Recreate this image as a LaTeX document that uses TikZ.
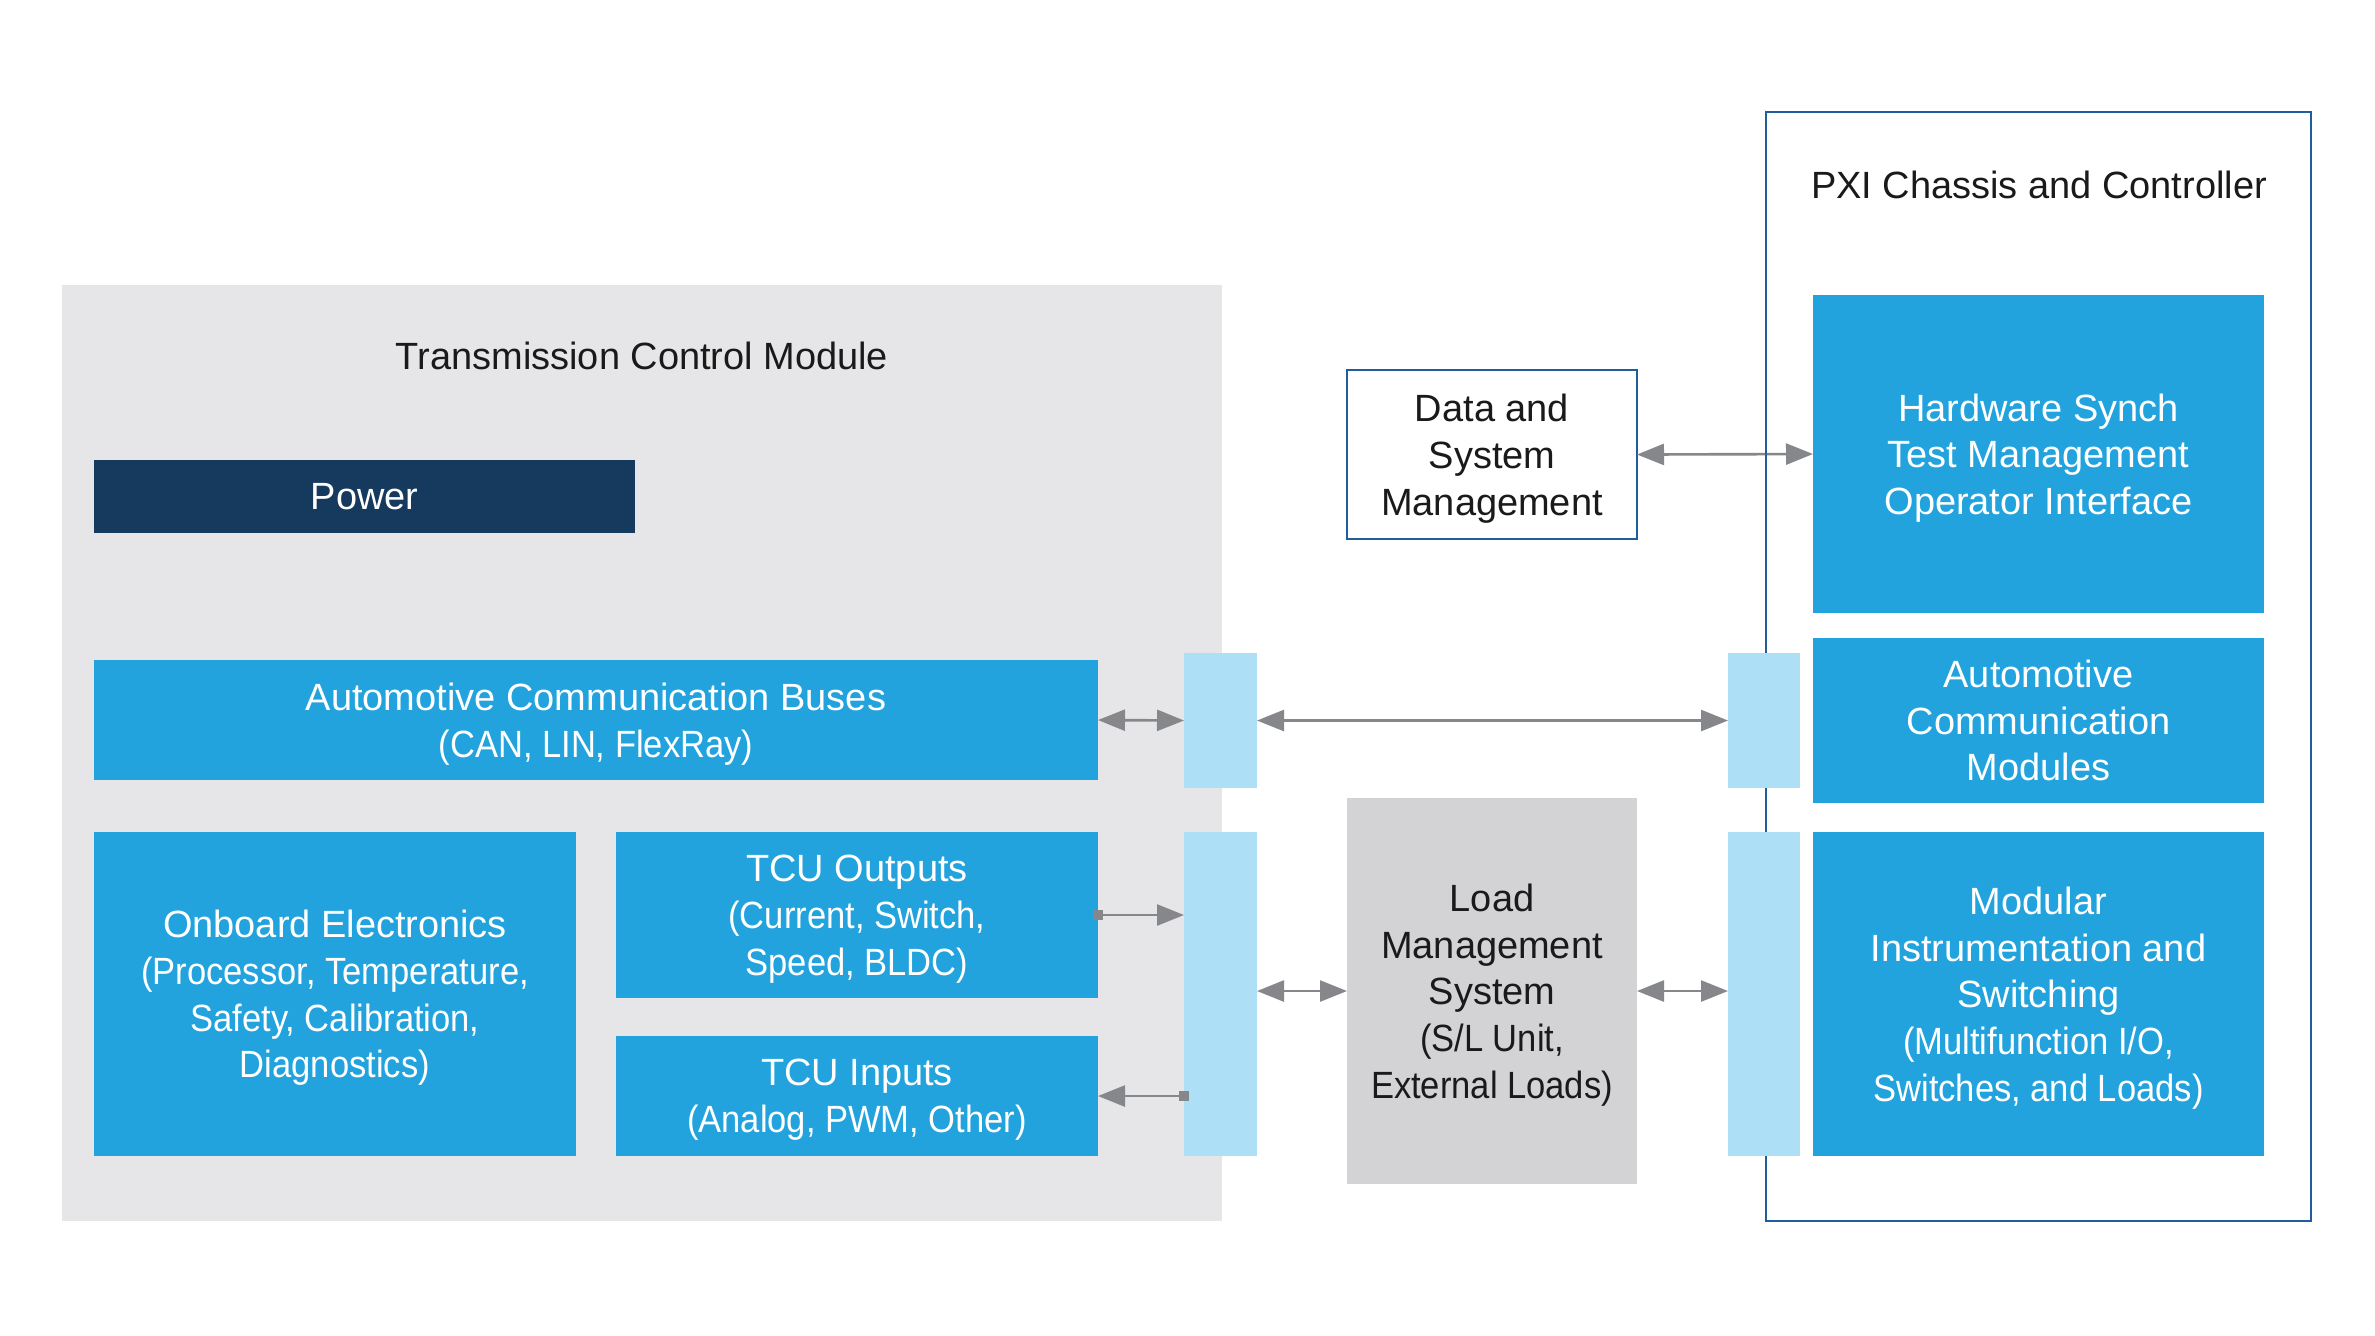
\documentclass[tikz,border=0pt]{standalone}
\usepackage{fontspec}
\usepackage{graphicx}
\setmainfont{Liberation Sans}
\usetikzlibrary{arrows.meta}
\definecolor{tcmgray}{HTML}{E6E6E8}
\definecolor{navy}{HTML}{163A5E}
\definecolor{nblue}{HTML}{22A3DD}
\definecolor{lblue}{HTML}{ADE0F6}
\definecolor{lmsgray}{HTML}{D3D3D5}
\definecolor{bblue}{HTML}{1F5D9E}
\definecolor{agray}{HTML}{86878A}
\definecolor{txt}{HTML}{1A1A1A}
\newcommand{\subl}[1]{\scalebox{0.91}[1]{#1}}
\newcommand{\nodp}[1]{\raisebox{0pt}[\height][0pt]{#1}}
\begin{document}
\begin{tikzpicture}[x=1cm,y=-1cm,
  font=\fontsize{10.8}{13.3}\selectfont,
  >={Triangle[length=0.27cm,width=0.21cm]},
  base/.style={rectangle, inner sep=0pt, outer sep=0pt, align=center},
  bluebox/.style={base, fill=nblue, text=white},
  connbox/.style={base, fill=lblue},
  title/.style={base, text=txt},
  conn/.style={draw=agray, line width=0.75pt}]
\useasboundingbox (0,0) rectangle (23.75,13.35);
\fill[white] (0,0) rectangle (23.75,13.35);

% Transmission Control Module
\node[base, fill=tcmgray, minimum width=11.60cm, minimum height=9.36cm] (tcm) at (6.42,7.53) {};
\node[title] (tcmtitle) at (6.42,3.56) {Transmission Control Module};
\node[base, fill=navy, text=white, minimum width=5.41cm, minimum height=0.73cm] (power) at (3.645,4.965) {Power};
\node[bluebox, minimum width=10.04cm, minimum height=1.20cm] (acb) at (5.96,7.20) {Automotive Communication Buses\\\nodp{\subl{(CAN, LIN, FlexRay)}}};
\node[bluebox, minimum width=4.82cm, minimum height=3.24cm] (oe) at (3.35,9.94) {Onboard Electronics\\\subl{(Processor, Temperature,}\\\subl{Safety, Calibration,}\\\nodp{\subl{Diagnostics)}}};
\node[bluebox, minimum width=4.82cm, minimum height=1.66cm] (tcuo) at (8.57,9.15) {TCU Outputs\\\subl{(Current, Switch,}\\\nodp{\subl{Speed, BLDC)}}};
\node[bluebox, minimum width=4.82cm, minimum height=1.20cm] (tcui) at (8.57,10.96) {TCU Inputs\\\nodp{\subl{(Analog, PWM, Other)}}};

% connector blocks
\node[connbox, minimum width=0.73cm, minimum height=1.35cm] (lb1) at (12.205,7.205) {};
\node[connbox, minimum width=0.73cm, minimum height=3.24cm] (lb2) at (12.205,9.94) {};

% middle
\node[base, draw=bblue, line width=0.6pt, fill=white, text=txt, minimum width=2.90cm, minimum height=1.69cm] (dsm) at (14.92,4.545) {Data and\\System\\\nodp{Management}};
\node[base, fill=lmsgray, text=txt, minimum width=2.90cm, minimum height=3.86cm] (lms) at (14.92,9.91) {Load\\Management\\System\\\subl{(S/L Unit,}\\\nodp{\subl{External Loads)}}};

% PXI
\node[base, draw=bblue, line width=0.55pt, minimum width=5.45cm, minimum height=11.09cm] (pxi) at (20.385,6.665) {};
\node[title] (pxititle) at (20.39,1.85) {PXI Chassis and Controller};
\node[bluebox, minimum width=4.51cm, minimum height=3.18cm] (hws) at (20.385,4.54) {Hardware Synch\\Test Management\\\nodp{Operator Interface}};
\node[bluebox, minimum width=4.51cm, minimum height=1.65cm] (acm) at (20.385,7.205) {Automotive\\Communication\\Modules};
\node[bluebox, minimum width=4.51cm, minimum height=3.24cm] (mis) at (20.385,9.94) {Modular\\Instrumentation and\\Switching\\\subl{(Multifunction I/O,}\\\nodp{\subl{Switches, and Loads)}}};
\node[connbox, minimum width=0.72cm, minimum height=1.35cm] (rb1) at (17.64,7.205) {};
\node[connbox, minimum width=0.72cm, minimum height=3.24cm] (rb2) at (17.64,9.94) {};

% connectors
\draw[conn,<->] (acb.east) -- (lb1.west);
\draw[conn,<->] (lb1.east) -- (rb1.west);
\draw[conn,->] (tcuo.east) -- (lb2.west |- tcuo.east);
\fill[agray] ([shift={(-0.05,-0.05)}]tcuo.east) rectangle ++(0.1,0.1);
\draw[conn,->] (lb2.west |- tcui.east) -- (tcui.east);
\fill[agray] ([shift={(-0.05,-0.05)}]lb2.west |- tcui.east) rectangle ++(0.1,0.1);
\draw[conn,<->] (lb2.east |- lms.west) -- (lms.west);
\draw[conn,<->] (lms.east) -- (rb2.west |- lms.east);
\draw[conn,<->] (dsm.east) -- (hws.west);
\draw[bblue, line width=0.55pt] (pxi.north west |- dsm.east) ++(0,-0.1) -- ++(0,0.2);
\end{tikzpicture}
\end{document}
